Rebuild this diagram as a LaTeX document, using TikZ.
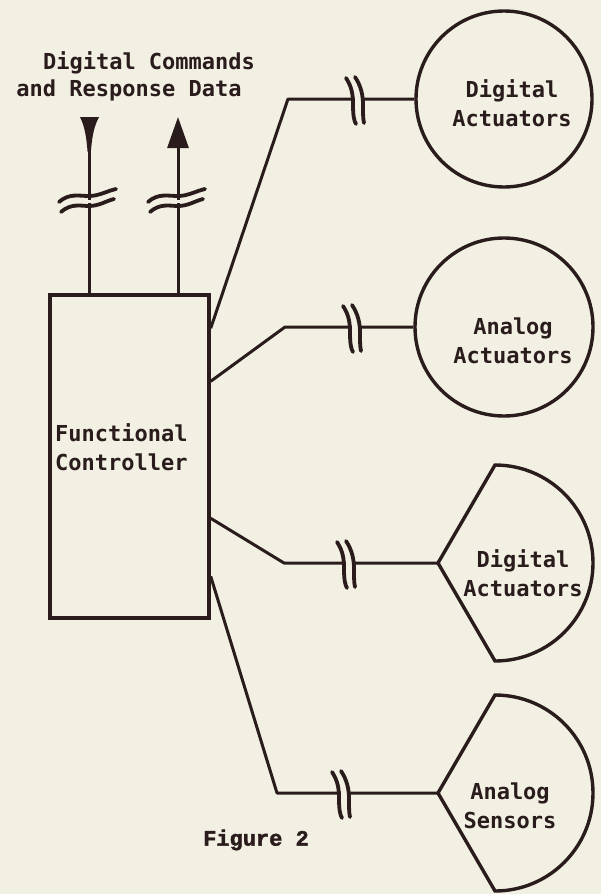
\documentclass[tikz,border=0pt]{standalone}
\usepackage{fontspec}
\usetikzlibrary{arrows.meta,calc}
\newfontfamily\tw{DejaVu Sans Mono}
\newfontfamily\figfont[BoldFeatures={FakeBold=2}]{Liberation Mono}
\definecolor{paper}{HTML}{F2F0E3}
\definecolor{ink}{HTML}{2A1C1C}
\tikzset{
  lbl/.style={font=\tw\bfseries\fontsize{22}{28.5}\selectfont, text=ink, align=center, inner sep=0pt},
  wire/.style={draw=ink, line width=3pt, line join=round},
  outline/.style={draw=ink, line width=3.4pt},
  brkstroke/.style={draw=ink, line width=3.8pt, line cap=round},
  hbrk/.pic={
    \fill[paper] (-0.5,-4) rectangle (5.5,4);
    \draw[brkstroke] (-9,-21) .. controls (-3,-12) and (-2,-4) .. (-2,6) .. controls (-2,16) and (-1,22) .. (1,25);
    \draw[brkstroke] (0,-22) .. controls (6,-13) and (8,-4) .. (8,6) .. controls (8,14) and (8,20) .. (9,24);
  },
  vbrk/.pic={
    \fill[paper] (-4,-1.5) rectangle (4,1.5);
    \draw[brkstroke] (-30,1) .. controls (-20,-8) and (-10,-5) .. (0,-5) .. controls (10,-5) and (18,-10) .. (27,-12);
    \draw[brkstroke] (-28,11) .. controls (-18,2) and (-8,5) .. (0,5) .. controls (10,5) and (17,0) .. (25,-2);
  }
}
\begin{document}
\begin{tikzpicture}[x=1pt,y=-1pt]
\fill[paper] (0,0) rectangle (601,894);
\useasboundingbox (0,0) rectangle (601,894);

% controller box
\node[outline, rectangle, minimum width=159pt, minimum height=323pt, inner sep=0pt] (ctrl) at (129.5,456.5) {};
\node[lbl, align=left, anchor=west] (fc) at (55,447) {Functional\\Controller};

% top texts
\node[lbl] (t1) at (149,63) {Digital Commands};
\node[lbl] (t2) at (129,90) {and Response Data};

% top lines
\coordinate (inTop) at (89,150);
\coordinate (outTop) at (178,117);
\draw[wire] (inTop) -- (inTop |- ctrl.north);
\fill[ink] (80,117) -- (99,117) .. controls (93,128) and (92,140) .. (90.8,152) -- (87.6,152) .. controls (86.5,140) and (85.5,128) .. (80,117) -- cycle;
\draw[wire, -{Triangle[length=31pt,width=21pt]}] (outTop |- ctrl.north) -- (outTop);
\pic at (89,201) {vbrk};
\pic at (178,201) {vbrk};

% peripheral shapes
\node[outline, circle, minimum size=176pt, inner sep=0pt] (da) at (504,99) {};
\node[lbl] (dat) at (512,103) {Digital\\Actuators};
\node[outline, circle, minimum size=178pt, inner sep=0pt] (aa) at (504,327) {};
\node[lbl] (aat) at (513,341) {Analog\\Actuators};

\coordinate (ds) at (438,563);
\draw[outline, line join=miter] (ds) -- (495,465) arc[start angle=-90, end angle=90, radius=98] -- cycle;
\node[lbl] (dst) at (523,573) {Digital\\Actuators};

\coordinate (as) at (438,793);
\draw[outline, line join=miter] (as) -- (495,695) arc[start angle=-90, end angle=90, radius=98] -- cycle;
\node[lbl] (ast) at (510,806) {Analog\\Sensors};

% connectors
\coordinate (k1) at (288,99);
\coordinate (k2) at (285,327);
\coordinate (k3) at (284,563);
\coordinate (k4) at (277,793);
\draw[wire] ($(ctrl.north east)+(0,35)$) -- (k1) -- (da.west);
\draw[wire] ($(ctrl.north east)+(0,88)$) -- (k2) -- (aa.west);
\draw[wire] ($(ctrl.north east)+(0,225)$) -- (k3) -- (ds);
\draw[wire] ($(ctrl.north east)+(0,283)$) -- (k4) -- (as);
\pic at (355,99) {hbrk};
\pic at (352,327) {hbrk};
\pic at (346,563) {hbrk};
\pic at (341,793) {hbrk};

\node[font=\figfont\bfseries\fontsize{22}{26}\selectfont, text=ink, inner sep=0pt] (fig) at (256,840) {Figure 2};
\end{tikzpicture}
\end{document}
